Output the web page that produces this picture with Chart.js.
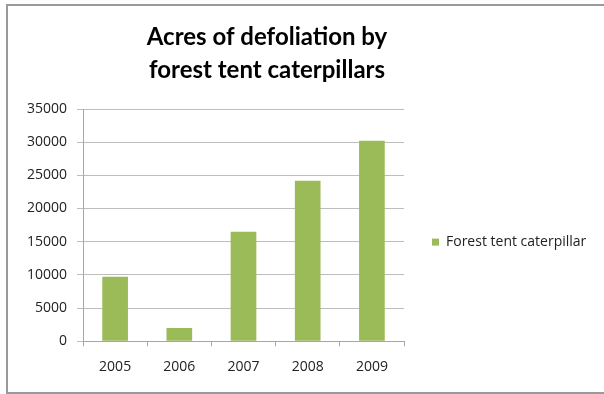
<!DOCTYPE html>
<html>
<head>
<meta charset="utf-8">
<script src="https://cdn.jsdelivr.net/npm/chart.js@4/dist/chart.umd.min.js"></script>
<style>
  html, body { margin: 0; padding: 0; background: #fff; }
  .wrap { position: relative; width: 604px; height: 394px; overflow: hidden; }
  .frame {
    position: absolute; left: 6px; top: 4px; width: 640px; height: 386px;
    border: 2px solid #9a9a9a;
  }
  canvas { position: absolute; left: 0; top: 0; }
</style>
</head>
<body>
<div class="wrap">
  <div class="frame"></div>
  <canvas id="defoliationChart" width="604" height="394"></canvas>
</div>
<script>
const years = ['2005', '2006', '2007', '2008', '2009'];
const acres = [9700, 2000, 16500, 24200, 30200];
const seriesName = 'Forest tent caterpillar';
const titleLines = ['Acres of defoliation by', 'forest tent caterpillars'];

// the built-in legend is capped at a quarter of the width, so the series key
// gets its own layout box on the right of the plot
const sideLegend = {
  id: 'sideLegend',
  beforeInit(chart) 
  {
    const box = {
      position: 'right',
      weight: 10,
      fullSize: false,
      options: {display: true},
      left: 0, top: 0, right: 0, bottom: 0, width: 0, height: 0,
      isHorizontal() { return false; },
      update(maxWidth, maxHeight) 
      {
        this.width = 113;
        this.height = maxHeight;
      },
      draw() 
      {
        const ctx = chart.ctx;
        const ds = chart.data.datasets[0];
        const x = this.left + 28;
        const y = (this.top + this.bottom) / 2 + 17;
        ctx.save();
        ctx.fillStyle = ds.backgroundColor;
        ctx.fillRect(x, y - 3.5, 7, 7);
        ctx.fillStyle = '#222';
        ctx.font = '14px "Open Sans"';
        ctx.textBaseline = 'middle';
        ctx.fillText(ds.label, x + 14, y);
        ctx.restore();
      }
    };
    Chart.layouts.addBox(chart, box);
  }
};

document.addEventListener('DOMContentLoaded', () => 
{
    const ctx = document.getElementById('defoliationChart').getContext('2d');
    new Chart(ctx, 
    {
      type: 'bar',
      data: 
      {
        labels: years,
        datasets: 
        [{
          label: seriesName,
          data: acres,
          backgroundColor: '#9bbb59',
          borderWidth: 0,
          categoryPercentage: 1.0,
          barPercentage: 0.4
        }]
      },
      plugins: [sideLegend],
      options: 
      {
        responsive: false,
        animation: false,
        layout: {padding: {top: 5, right: 87, bottom: 7, left: 17}},
        plugins: 
        {
          title: 
          {
            display: true,
            text: titleLines,
            color: '#000',
            font: {family: 'Lato', size: 24, weight: 'bold', lineHeight: '33px'},
            padding: {top: 16, bottom: 22}
          },
          legend: {display: false},
          tooltip: {enabled: false}
        },
        scales: 
        {
          x: 
          {
            grid: {drawOnChartArea: false, tickLength: 5, color: '#a6a6a6'},
            border: {color: '#a6a6a6'},
            ticks: {color: '#222', padding: 12, font: {family: 'Open Sans', size: 14}}
          },
          y: 
          {
            min: 0,
            max: 35000,
            grid: {color: '#bdbdbd', tickLength: 6},
            border: {color: '#a6a6a6'},
            ticks: 
            {
              stepSize: 5000,
              color: '#222',
              padding: 10,
              font: {family: 'Open Sans', size: 14},
              callback: value => String(value)
            }
          }
        }
      }
    });
});
</script>
</body>
</html>
